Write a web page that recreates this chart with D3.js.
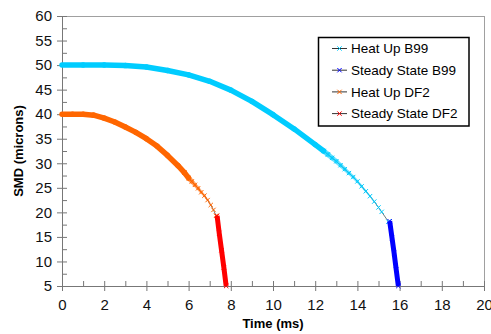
<!DOCTYPE html>
<html lang="en">
<head>
  <meta charset="UTF-8">
  <script src="https://d3js.org/d3.v7.min.js"></script>
  <style>
    body {
      margin: 0;
      background: #fff;
    }
    svg {
      display: block;
      font-family: Arial, "Liberation Sans", sans-serif;
    }
  </style>
</head>
<body>

<svg width="491" height="334"></svg>

<script>
  // axis ticks
  const xTicks = [0, 2, 4, 6, 8, 10, 12, 14, 16, 18, 20];
  const xMinor = [1, 3, 5, 7, 9, 11, 13, 15, 17, 19];
  const yTicks = [5, 10, 15, 20, 25, 30, 35, 40, 45, 50, 55, 60];
  const yMinor = [7.5, 12.5, 17.5, 22.5, 27.5, 32.5, 37.5, 42.5, 47.5, 52.5, 57.5];

  // [time ms, SMD microns]
  const heatUpB99 = [
    [0, 50], [1, 50], [2, 50], [3, 49.9], [4, 49.6], [5, 48.9], [6, 48.0], [7, 46.7],
    [8, 44.9], [9, 42.6], [10, 39.9], [11, 37.0], [12, 33.8], [12.4, 32.5], [12.6, 31.8],
    [12.8, 31.1], [13.0, 30.4], [13.2, 29.6], [13.4, 28.8], [13.6, 28.0], [13.8, 27.2],
    [14.0, 26.3], [14.2, 25.3], [14.4, 24.3], [14.6, 23.3], [14.8, 22.2], [15.0, 21.0],
    [15.15, 20.1], [15.47, 18.1]
  ];
  const steadyB99 = [[15.53, 18.2], [15.64, 14.8], [15.74, 11.7], [15.84, 8.3], [15.94, 5.0]];
  const heatUpDF2 = [
    [0, 40], [0.5, 40], [1, 40], [1.5, 39.8], [2, 39.2], [2.5, 38.4], [3, 37.4], [3.5, 36.3],
    [4, 35.0], [4.5, 33.5], [5, 31.6], [5.5, 29.5], [5.8, 28.1], [6.0, 27.0], [6.15, 26.3],
    [6.3, 25.6], [6.45, 24.9], [6.6, 24.1], [6.75, 23.4], [6.9, 22.5], [7.05, 21.5],
    [7.18, 20.5], [7.3, 19.3]
  ];
  const steadyDF2 = [[7.35, 19.3], [7.45, 15.8], [7.56, 12.3], [7.67, 8.8], [7.78, 5.0]];

  const seriesNames = ['Heat Up B99', 'Steady State B99', 'Heat Up DF2', 'Steady State DF2'];
  const seriesColors = ['#00ccff', '#0000ff', '#ff6600', '#ff0000'];

  const series = [
    { name: seriesNames[0], color: seriesColors[0], data: heatUpB99, heat: true },
    { name: seriesNames[1], color: seriesColors[1], data: steadyB99, heat: false },
    { name: seriesNames[2], color: seriesColors[2], data: heatUpDF2, heat: true },
    { name: seriesNames[3], color: seriesColors[3], data: steadyDF2, heat: false }
  ];

  const svg = d3.select('svg');
  const pLeft = 62, pRight = 484, pTop = 16, pBottom = 286;

  const x = d3.scaleLinear().domain([0, 20]).range([pLeft, pRight]);
  const y = d3.scaleLinear().domain([5, 60]).range([pBottom, pTop]);

  // frame top / right
  svg.append('line').attr('x1', pLeft).attr('x2', pRight + 0.5).attr('y1', pTop + 0.5).attr('y2', pTop + 0.5)
    .attr('stroke', '#a0a0a0');
  svg.append('line').attr('x1', pRight + 0.5).attr('x2', pRight + 0.5).attr('y1', pTop).attr('y2', pBottom)
    .attr('stroke', '#a0a0a0');

  // minor ticks (inside)
  svg.append('g').attr('transform', `translate(0,${pBottom})`)
    .call(d3.axisBottom(x).tickValues(xMinor).tickSize(-5).tickFormat(''))
    .call(g => g.select('.domain').remove());
  svg.append('g').attr('transform', `translate(${pLeft},0)`)
    .call(d3.axisLeft(y).tickValues(yMinor).tickSize(-5).tickFormat(''))
    .call(g => g.select('.domain').remove());

  // major axes, ticks cross the axis line
  const xAxis = svg.append('g').attr('transform', `translate(0,${pBottom})`)
    .call(d3.axisBottom(x).tickValues(xTicks).tickSize(5).tickPadding(8));
  xAxis.selectAll('.tick line').attr('y1', -5);
  const yAxis = svg.append('g').attr('transform', `translate(${pLeft},0)`)
    .call(d3.axisLeft(y).tickValues(yTicks).tickSize(5).tickPadding(5));
  yAxis.selectAll('.tick line').attr('x1', 5);

  svg.selectAll('.tick line, .domain').attr('stroke', '#777');
  svg.selectAll('.tick text').attr('font-size', 15).attr('fill', '#111')
    .attr('font-family', 'Arial, "Liberation Sans", sans-serif');
  xAxis.selectAll('.tick text').attr('dy', '0.72em');

  // axis titles
  svg.append('text').attr('x', (pLeft + pRight) / 2).attr('y', 328)
    .attr('text-anchor', 'middle').attr('font-weight', 'bold').attr('font-size', 13)
    .text('Time (ms)');
  svg.append('text').attr('transform', `translate(23,${(pTop + pBottom) / 2}) rotate(-90)`)
    .attr('text-anchor', 'middle').attr('font-weight', 'bold').attr('font-size', 13)
    .text('SMD (microns)');

  const line = d3.line().x(d => x(d[0])).y(d => y(d[1]));
  const xMark = d3.symbol().type(d3.symbolX).size(14);

  series.forEach(s => {
    const g = svg.append('g');
    // thin connecting line
    g.append('path').attr('d', line(s.data)).attr('fill', 'none')
      .attr('stroke', '#555').attr('stroke-width', 0.8);

    let marks = s.data;
    if (s.heat) {
      // dense markers form a band that thins out towards the end
      const tMax = s.data[s.data.length - 1][0];
      for (let i = 0; i < s.data.length - 1; i++) {
        const f = s.data[i][0] / tMax;
        const w = f < 0.8 ? 5.5 : Math.max(0, 5.5 - (f - 0.8) / 0.2 * 6);
        if (w <= 0) continue;
        g.append('line')
          .attr('x1', x(s.data[i][0])).attr('y1', y(s.data[i][1]))
          .attr('x2', x(s.data[i + 1][0])).attr('y2', y(s.data[i + 1][1]))
          .attr('stroke', s.color).attr('stroke-width', w)
          .attr('stroke-opacity', f < 0.8 ? 1 : 0.55)
          .attr('stroke-linecap', 'round');
      }
      marks = s.data.filter(d => d[0] / tMax >= 0.78);
    } else {
      g.append('path').attr('d', line(s.data)).attr('fill', 'none')
        .attr('stroke', s.color).attr('stroke-width', 5);
    }

    g.selectAll('path.mk').data(marks).join('path').attr('class', 'mk')
      .attr('d', xMark)
      .attr('transform', d => `translate(${x(d[0])},${y(d[1])})`)
      .attr('fill', 'none').attr('stroke', s.color).attr('stroke-width', 1);
  });

  // legend
  const lg = svg.append('g');
  lg.append('rect').attr('x', 318.5).attr('y', 37.5).attr('width', 150.5).attr('height', 88.5)
    .attr('fill', '#fff').attr('stroke', '#000').attr('stroke-width', 1.5);
  const rows = lg.selectAll('g.row').data(series).join('g').attr('class', 'row')
    .attr('transform', (d, i) => `translate(0,${48.5 + i * 21.7})`);
  rows.append('line').attr('x1', 332).attr('x2', 347).attr('stroke', '#333').attr('stroke-width', 1);
  rows.append('path').attr('d', xMark).attr('transform', 'translate(339.5,0)')
    .attr('fill', 'none').attr('stroke', d => d.color).attr('stroke-width', 1);
  rows.append('text').attr('x', 351).attr('dy', '0.36em').attr('font-size', 13.5).attr('fill', '#000')
    .text(d => d.name);
</script>

</body>
</html>
